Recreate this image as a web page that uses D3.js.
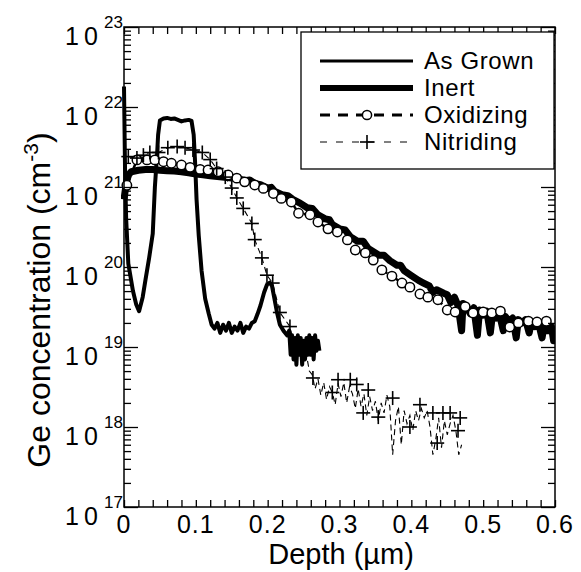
<!DOCTYPE html>
<html>
<head>
<meta charset="utf-8">
<script src="https://cdn.jsdelivr.net/npm/d3@7"></script>
<style>
  body { margin: 0; background: #fff; }
  svg { display: block; font-family: "Liberation Sans", Arial, sans-serif; }
</style>
</head>
<body>
<svg id="chart" width="581" height="572"></svg>
<script>
// ---- data (depth in um, Ge concentration in cm^-3) ----
const asGrown = [
  [0, 1.8e22], [0.0015, 1.5e21], [0.003, 4e20], [0.006, 1.1e20], [0.0125, 5e19], [0.017, 3.4e19],
  [0.021, 2.8e19], [0.026, 4.2e19], [0.030, 7e19], [0.035, 1.3e20], [0.040, 2.6e20], [0.043, 1e21],
  [0.046, 2.5e21], [0.0475, 4.5e21], [0.050, 6.8e21], [0.055, 7.2e21], [0.060, 7.3e21], [0.065, 7.1e21],
  [0.070, 7.2e21], [0.075, 6.9e21], [0.080, 6.6e21], [0.085, 6.8e21], [0.090, 6.9e21], [0.094, 6.7e21],
  [0.097, 4.5e21], [0.099, 2e21], [0.101, 7e20], [0.104, 2.5e20], [0.108, 9e19], [0.113, 4e19],
  [0.118, 2.6e19], [0.122, 1.9e19], [0.126, 1.7e19], [0.130, 2e19], [0.134, 1.5e19], [0.138, 1.9e19],
  [0.142, 1.6e19], [0.146, 2e19], [0.150, 1.5e19], [0.154, 1.8e19], [0.158, 1.6e19], [0.162, 2e19],
  [0.166, 1.5e19], [0.170, 1.8e19], [0.174, 1.7e19], [0.178, 2e19], [0.182, 2.1e19], [0.186, 2.6e19],
  [0.190, 3.3e19], [0.195, 4.8e19], [0.199, 6e19], [0.203, 6.4e19], [0.206, 5.8e19], [0.209, 4.2e19],
  [0.213, 2.7e19], [0.217, 1.9e19], [0.222, 1.6e19], [0.227, 1.4e19], [0.230, 1.6e19], [0.232, 8e18],
  [0.234, 1.4e19], [0.236, 7e18], [0.238, 1.3e19], [0.240, 6e18], [0.242, 1.4e19], [0.244, 8e18],
  [0.246, 1.3e19], [0.248, 6e18], [0.250, 1.2e19], [0.252, 7e18], [0.254, 1.3e19], [0.256, 8e18],
  [0.258, 1.4e19], [0.260, 8e18], [0.262, 1.3e19], [0.264, 7e18], [0.266, 1.4e19], [0.268, 9e18],
  [0.270, 1.2e19], [0.272, 9e18]
];

const inert = [
  [0, 7e20], [0.003, 1.1e21], [0.006, 1.4e21], [0.01, 1.55e21], [0.02, 1.62e21], [0.03, 1.65e21],
  [0.04, 1.65e21], [0.05, 1.62e21], [0.06, 1.6e21], [0.07, 1.58e21], [0.08, 1.55e21], [0.09, 1.5e21],
  [0.1, 1.45e21], [0.11, 1.42e21], [0.12, 1.38e21], [0.13, 1.35e21], [0.14, 1.32e21], [0.15, 1.3e21],
  [0.16, 1.27e21], [0.168, 1.2e21], [0.175, 1.22e21], [0.183, 1.1e21], [0.19, 1.07e21], [0.2, 9.7e20],
  [0.205, 9.9e20], [0.21, 8.8e20], [0.22, 8e20], [0.228, 7.8e20], [0.235, 7e20], [0.245, 6.3e20],
  [0.255, 5.5e20], [0.262, 5.4e20], [0.27, 4.5e20], [0.28, 4e20], [0.286, 3.9e20], [0.29, 3.4e20],
  [0.3, 3e20], [0.308, 2.9e20], [0.315, 2.4e20], [0.325, 2.1e20], [0.333, 2.1e20], [0.34, 1.7e20],
  [0.355, 1.4e20], [0.362, 1.4e20], [0.37, 1.2e20], [0.38, 1.05e20], [0.385, 1.05e20], [0.39, 9e19],
  [0.4, 7.8e19], [0.41, 6.8e19], [0.417, 6.3e19], [0.425, 5.8e19], [0.43, 4.8e19], [0.435, 5.2e19],
  [0.445, 4.7e19], [0.45, 4.5e19], [0.455, 3.6e19], [0.46, 4.2e19], [0.465, 3.3e19],
  [0.47, 1.6e19], [0.472, 3.5e19], [0.477, 3.2e19], [0.482, 2.6e19], [0.487, 3.1e19], [0.492, 1.4e19],
  [0.495, 2.9e19], [0.5, 2.5e19], [0.505, 2.8e19], [0.51, 1.5e19], [0.513, 2.6e19], [0.518, 2.3e19],
  [0.523, 2.5e19], [0.528, 1.6e19], [0.531, 2.4e19], [0.536, 2.1e19], [0.541, 2.3e19], [0.546, 1.3e19],
  [0.549, 2.2e19], [0.554, 2e19], [0.559, 2.2e19], [0.564, 1.5e19], [0.567, 2e19], [0.572, 1.8e19],
  [0.577, 2e19], [0.582, 1.3e19], [0.585, 1.9e19], [0.59, 1.6e19], [0.595, 1.8e19], [0.598, 1.2e19],
  [0.6, 1.6e19]
];

const oxidizing = [
  [0.004, 1.05e21], [0.018, 2.18e21], [0.032, 2.18e21], [0.043, 2.18e21], [0.055, 2.07e21],
  [0.066, 1.98e21], [0.080, 1.88e21], [0.092, 1.76e21], [0.106, 1.66e21], [0.117, 1.63e21],
  [0.131, 1.55e21], [0.145, 1.41e21], [0.157, 1.29e21], [0.168, 1.16e21], [0.182, 1.06e21],
  [0.194, 9.6e20], [0.208, 8.3e20], [0.219, 7.2e20], [0.233, 6.5e20], [0.243, 4.7e20],
  [0.259, 4.5e20], [0.270, 3.65e20], [0.284, 3e20], [0.297, 2.74e20], [0.311, 2.18e20],
  [0.322, 1.63e20], [0.336, 1.5e20], [0.347, 1.22e20], [0.359, 9.2e19], [0.373, 7.7e19],
  [0.387, 6.3e19], [0.398, 5.6e19], [0.412, 4.6e19], [0.423, 4.2e19], [0.437, 3.9e19],
  [0.450, 2.9e19], [0.461, 2.74e19], [0.475, 3.2e19], [0.486, 2.66e19], [0.500, 2.74e19],
  [0.512, 2.66e19], [0.524, 2.8e19], [0.537, 1.78e19], [0.549, 2e19], [0.563, 2.1e19],
  [0.575, 2.05e19], [0.588, 2.1e19]
];

const nitridingMarkers = [
  [0.006, 2.4e21], [0.018, 2.3e21], [0.027, 2.5e21], [0.036, 2.7e21], [0.048, 2.7e21], [0.061, 3.1e21],
  [0.074, 3.2e21], [0.085, 3.1e21], [0.096, 2.9e21], [0.109, 2.7e21], [0.120, 2.2e21], [0.129, 1.7e21],
  [0.141, 1.33e21], [0.150, 9.7e20], [0.157, 7.3e20], [0.166, 5.4e20], [0.178, 3.5e20], [0.182, 2.2e20],
  [0.192, 1.3e20], [0.199, 7.9e19], [0.207, 6.3e19], [0.217, 2.7e19], [0.231, 1.8e19], [0.263, 4.1e18],
  [0.290, 2.7e18], [0.298, 3.9e18], [0.315, 3.9e18], [0.324, 3.4e18], [0.333, 1.5e18], [0.340, 2.9e18],
  [0.354, 1.33e18], [0.374, 2.3e18], [0.398, 1e18], [0.412, 1.9e18], [0.430, 1.5e18], [0.436, 6.3e17],
  [0.444, 1.5e18], [0.454, 1.5e18], [0.465, 9e17], [0.468, 1.3e18]
];

// noisy tail of the nitriding profile (thin dashed trace)
const nitridingTail = [
  [0.233, 1.5e19], [0.238, 9e18], [0.243, 1.2e19], [0.248, 7e18], [0.253, 9e18], [0.258, 5e18],
  [0.262, 4.5e18], [0.266, 3e18], [0.27, 4e18], [0.274, 2.5e18], [0.278, 3.6e18], [0.282, 2.2e18],
  [0.286, 3.2e18], [0.29, 2.7e18], [0.294, 1.9e18], [0.298, 3.5e18], [0.302, 2.4e18], [0.306, 3.6e18],
  [0.31, 2e18], [0.314, 3.2e18], [0.318, 2.6e18], [0.322, 1.7e18], [0.326, 3e18], [0.33, 1.8e18],
  [0.334, 2.6e18], [0.338, 1.4e18], [0.342, 2.4e18], [0.346, 1.6e18], [0.35, 2.1e18], [0.354, 1.2e18],
  [0.358, 2e18], [0.362, 1.5e18], [0.366, 2.5e18], [0.37, 1.8e18], [0.374, 4.5e17], [0.378, 1.2e18],
  [0.382, 1.8e18], [0.386, 6e17], [0.39, 1.6e18], [0.394, 1.1e18], [0.398, 1.4e18], [0.402, 9e17],
  [0.406, 1.6e18], [0.41, 1.2e18], [0.414, 1.7e18], [0.418, 1.3e18], [0.422, 1.6e18], [0.426, 1e18],
  [0.43, 4.5e17], [0.434, 7e17], [0.438, 1.3e18], [0.442, 5.5e17], [0.446, 1.2e18], [0.45, 8e17],
  [0.454, 1.1e18], [0.458, 1.4e18], [0.462, 9e17], [0.466, 4.5e17], [0.47, 6e17]
];

const xTicks = [0, 0.1, 0.2, 0.3, 0.4, 0.5, 0.6];
const xTickLabels = ['0', '0.1', '0.2', '0.3', '0.4', '0.5', '0.6'];
const yExponents = [17, 18, 19, 20, 21, 22, 23];
const legendNames = ['As Grown', 'Inert', 'Oxidizing', 'Nitriding'];

// ---- layout ----
const L = 124, R = 555, T = 27, B = 507;
const svg = d3.select('#chart');

const x = d3.scaleLinear().domain([0, 0.6]).range([L, R]);
const y = d3.scaleLog().domain([1e17, 1e23]).range([B, T]);

svg.append('clipPath').attr('id', 'plot-clip')
  .append('rect').attr('x', L - 3).attr('y', T).attr('width', R - L + 3).attr('height', B - T);

const plot = svg.append('g').attr('clip-path', 'url(#plot-clip)');
const line = d3.line().x(d => x(d[0])).y(d => y(d[1]));

// nitriding: thin dashed trace through the markers and the noisy tail
plot.append('path')
  .datum(nitridingMarkers.filter(d => d[0] < 0.232).concat(nitridingTail))
  .attr('d', line).attr('fill', 'none').attr('stroke', '#000')
  .attr('stroke-width', 1.1).attr('stroke-dasharray', '6,4');

// inert: thick solid
plot.append('path').datum(inert).attr('d', line)
  .attr('fill', 'none').attr('stroke', '#000').attr('stroke-width', 7).attr('stroke-linejoin', 'round');

// as grown: medium solid
plot.append('path').datum(asGrown).attr('d', line)
  .attr('fill', 'none').attr('stroke', '#000').attr('stroke-width', 4).attr('stroke-linejoin', 'round');

// oxidizing: dashed line with open circles
plot.append('path').datum(oxidizing).attr('d', line)
  .attr('fill', 'none').attr('stroke', '#000').attr('stroke-width', 2.5).attr('stroke-dasharray', '9,7');

plot.selectAll('.ox').data(oxidizing).join('circle').attr('class', 'ox')
  .attr('cx', d => x(d[0])).attr('cy', d => y(d[1])).attr('r', 4.7)
  .attr('fill', '#fff').attr('stroke', '#000').attr('stroke-width', 1.5);

const plus = (g, cx, cy, s) => {
  g.append('line').attr('x1', cx - s).attr('x2', cx + s).attr('y1', cy).attr('y2', cy);
  g.append('line').attr('x1', cx).attr('x2', cx).attr('y1', cy - s).attr('y2', cy + s);
};
const plusG = plot.append('g').attr('stroke', '#000').attr('stroke-width', 1.6);
nitridingMarkers.forEach(d => plus(plusG, x(d[0]), y(d[1]), 7));

// ---- axes (ticks pointing inward on all four sides) ----
const frame = svg.append('g');
frame.append('rect').attr('x', L).attr('y', T).attr('width', R - L).attr('height', B - T)
  .attr('fill', 'none').attr('stroke', '#000').attr('stroke-width', 1.5);

const xMinor = d3.range(0, 31).map(i => i * 0.02);
svg.append('g').attr('transform', `translate(0,${B})`)
  .call(d3.axisBottom(x).tickValues(xMinor).tickSize(-7).tickFormat(''))
  .call(g => g.select('.domain').remove());
svg.append('g').attr('transform', `translate(0,${T})`)
  .call(d3.axisTop(x).tickValues(xMinor).tickSize(-7).tickFormat(''))
  .call(g => g.select('.domain').remove());

const yMajor = yExponents.map(e => Math.pow(10, e));
const yMinor = [];
yExponents.slice(0, -1).forEach(e => d3.range(2, 10).forEach(m => yMinor.push(m * Math.pow(10, e))));

[[d3.axisLeft, L], [d3.axisRight, R]].forEach(([axis, pos]) => {
  svg.append('g').attr('transform', `translate(${pos},0)`)
    .call(axis(y).tickValues(yMinor).tickSize(-7).tickFormat(''))
    .call(g => g.select('.domain').remove());
  svg.append('g').attr('transform', `translate(${pos},0)`)
    .call(axis(y).tickValues(yMajor).tickSize(-14).tickFormat(''))
    .call(g => g.select('.domain').remove());
});
svg.selectAll('.tick line').attr('stroke-width', 1.3);

// x tick labels
svg.selectAll('.xlab').data(xTicks).join('text').attr('class', 'xlab')
  .attr('x', d => x(d)).attr('y', B + 26).attr('text-anchor', 'middle')
  .style('font-size', '25px').attr('letter-spacing', 1)
  .text((d, i) => xTickLabels[i]);

// y tick labels: 10 with superscript exponent
svg.selectAll('.ylab').data(yExponents).join('text').attr('class', 'ylab')
  .attr('x', 65).attr('y', d => y(Math.pow(10, d)) + 18)
  .style('font-size', '25px').attr('letter-spacing', 5).text('10');
svg.selectAll('.ysup').data(yExponents).join('text').attr('class', 'ysup')
  .attr('x', 104).attr('y', d => y(Math.pow(10, d)) + 1)
  .style('font-size', '17px').text(d => d);

// axis titles
svg.append('text').attr('x', 341).attr('y', 564).attr('text-anchor', 'middle')
  .style('font-size', '29px').text('Depth (\u00b5m)');

const yt = svg.append('text').attr('transform', 'translate(50,300) rotate(-90)')
  .attr('text-anchor', 'middle').style('font-size', '32px');
yt.append('tspan').text('Ge concentration (cm');
yt.append('tspan').attr('dy', -12).style('font-size', '21px').text('-3');
yt.append('tspan').attr('dy', 12).text(')');

// ---- legend ----
const lg = svg.append('g');
lg.append('rect').attr('x', 301).attr('y', 32).attr('width', 253).attr('height', 137)
  .attr('fill', '#fff').attr('stroke', '#000').attr('stroke-width', 1.3);

const rowY = i => 61 + i * 27;
legendNames.forEach((name, i) => {
  lg.append('text').attr('x', 424).attr('y', rowY(i) + 8)
    .style('font-size', '24px').attr('letter-spacing', 0.6).text(name);
});
lg.append('line').attr('x1', 320).attr('x2', 413).attr('y1', rowY(0)).attr('y2', rowY(0))
  .attr('stroke', '#000').attr('stroke-width', 3);
lg.append('line').attr('x1', 320).attr('x2', 413).attr('y1', rowY(1)).attr('y2', rowY(1))
  .attr('stroke', '#000').attr('stroke-width', 6);
lg.append('line').attr('x1', 320).attr('x2', 413).attr('y1', rowY(2)).attr('y2', rowY(2))
  .attr('stroke', '#000').attr('stroke-width', 3).attr('stroke-dasharray', '10,8');
lg.append('circle').attr('cx', 367).attr('cy', rowY(2)).attr('r', 4.6)
  .attr('fill', '#fff').attr('stroke', '#000').attr('stroke-width', 1.5);
lg.append('line').attr('x1', 320).attr('x2', 413).attr('y1', rowY(3)).attr('y2', rowY(3))
  .attr('stroke', '#000').attr('stroke-width', 1).attr('stroke-dasharray', '7,9');
const lp = lg.append('g').attr('stroke', '#000').attr('stroke-width', 1.6);
plus(lp, 367, rowY(3), 7);
</script>
</body>
</html>
